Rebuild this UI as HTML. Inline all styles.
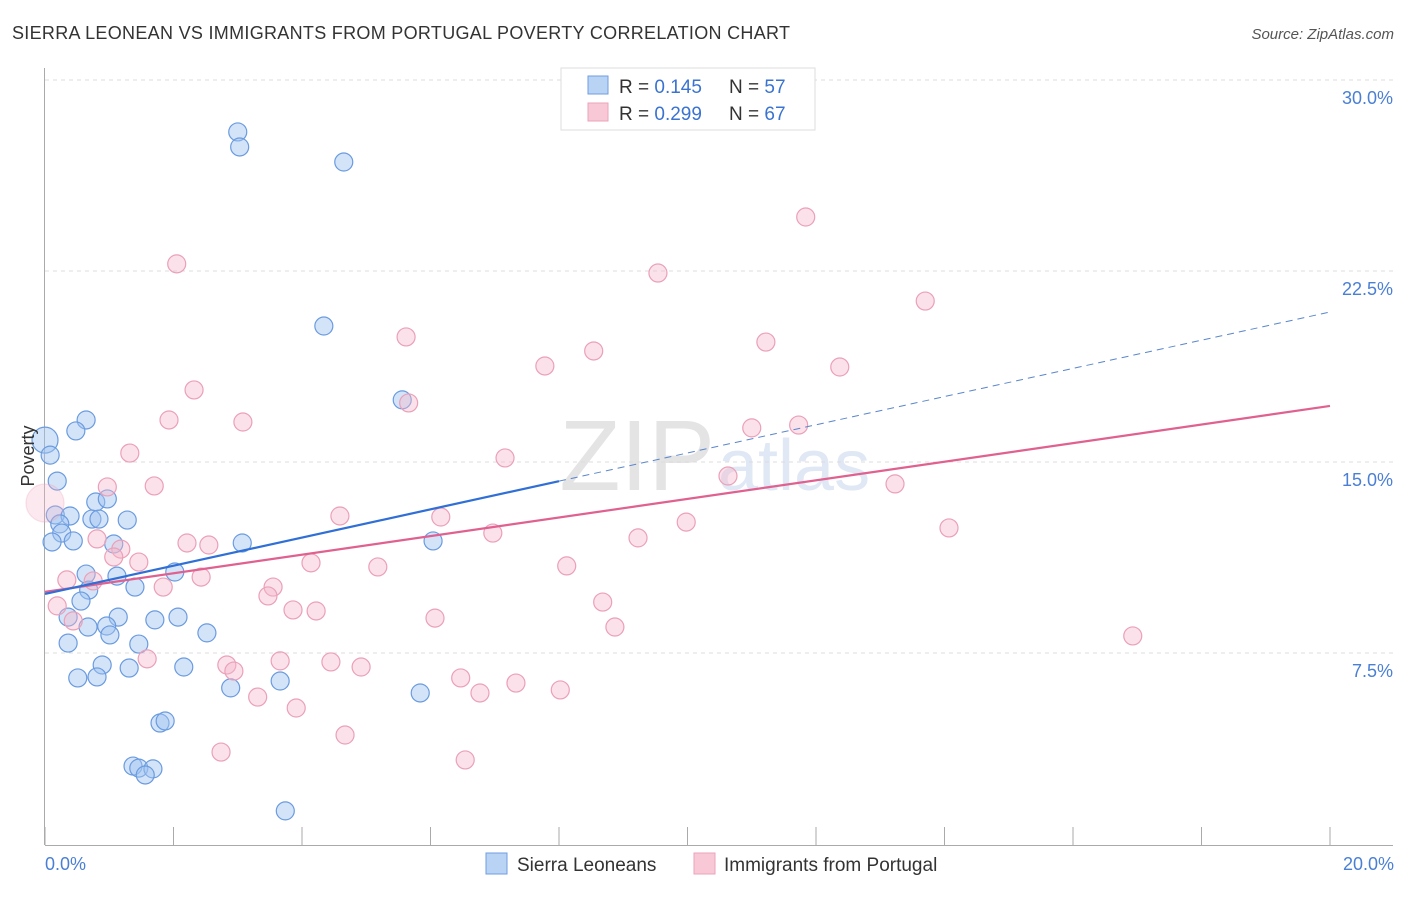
<!DOCTYPE html>
<html><head><meta charset="utf-8"><style>
body{margin:0;background:#fff;font-family:"Liberation Sans",sans-serif;}
svg text{font-family:"Liberation Sans",sans-serif;}
</style></head><body>
<svg id="chart" width="1406" height="892" viewBox="0 0 1406 892" xmlns="http://www.w3.org/2000/svg">
<text x="12" y="39" font-size="18" fill="#333" textLength="778">SIERRA LEONEAN VS IMMIGRANTS FROM PORTUGAL POVERTY CORRELATION CHART</text>
<text x="1394" y="39" font-size="15" fill="#555" font-style="italic" text-anchor="end">Source: ZipAtlas.com</text>
<text x="715" y="490" font-size="100" fill="#e4e4e4" text-anchor="end" font-family="Liberation Serif">ZIP</text>
<text x="718" y="490" font-size="72" fill="#dfe8f4">atlas</text>
<g id="grid"></g>
<g id="axes"></g>
<g id="pts"></g>
<g id="lines"></g>
<text x="34" y="456" font-size="18" fill="#333" text-anchor="middle" transform="rotate(-90 34 456)">Poverty</text>
<text x="45" y="870" font-size="18" fill="#4a7fd4">0.0%</text>
<text x="1394" y="870" font-size="18" fill="#4a7fd4" text-anchor="end">20.0%</text>
<g>
<rect x="561" y="68" width="254" height="62" fill="#fff" stroke="#ddd"/>
<rect x="588" y="76" width="20" height="18" fill="#b9d3f5" stroke="#6f9de0"/>
<rect x="588" y="103" width="20" height="18" fill="#f9c8d7" stroke="#eba3bb"/>
<text x="619" y="93" font-size="19" fill="#333">R = <tspan fill="#3a73d0">0.145</tspan><tspan x="729">N = </tspan><tspan fill="#3a73d0">57</tspan></text>
<text x="619" y="120" font-size="19" fill="#333">R = <tspan fill="#3a73d0">0.299</tspan><tspan x="729">N = </tspan><tspan fill="#3a73d0">67</tspan></text>
</g>
<g>
<rect x="486" y="853" width="21" height="21" fill="#b9d3f5" stroke="#6f9de0"/>
<text x="517" y="871" font-size="19" fill="#333">Sierra Leoneans</text></g>
<g>
<rect x="694" y="853" width="21" height="21" fill="#f9c8d7" stroke="#eba3bb"/>
<text x="724" y="871" font-size="19" fill="#333">Immigrants from Portugal</text></g>
</svg>
<script>
const yTicks=[7.5,15,22.5,30];
const yTickLabels=["7.5%","15.0%","22.5%","30.0%"];
const xTicks=[0,2,4,6,8,10,12,14,16,18,20];
const blueX=[3.00,3.03,4.65,4.34,5.56,0.64,0.48,0.0,0.08,0.19,0.79,0.97,0.16,0.39,0.73,0.84,1.28,0.23,0.26,0.11,0.44,1.07,3.07,6.04,0.64,1.12,2.02,1.40,0.68,0.56,0.36,1.14,1.71,2.07,0.67,0.96,1.01,2.52,0.36,1.46,0.89,1.31,2.16,0.51,0.81,2.89,3.66,5.84,1.79,1.87,1.37,1.46,1.68,1.56,3.74];
const blueY=[27.96,27.37,26.78,20.34,17.44,16.65,16.22,15.86,15.27,14.25,13.43,13.55,12.92,12.88,12.76,12.76,12.72,12.57,12.21,11.86,11.90,11.78,11.82,11.90,10.60,10.52,10.68,10.09,9.97,9.54,8.91,8.91,8.80,8.91,8.52,8.56,8.21,8.29,7.89,7.85,7.03,6.91,6.95,6.52,6.56,6.13,6.40,5.93,4.75,4.83,3.06,2.98,2.95,2.71,1.30];
const pinkX=[2.05,9.54,11.84,13.70,5.62,8.54,11.22,7.78,12.37,2.32,5.66,1.93,3.08,11.00,11.73,1.32,7.16,10.63,13.23,1.70,0,0.97,4.59,6.16,9.98,14.07,6.97,9.23,0.81,2.21,2.55,1.18,1.07,1.46,4.14,5.18,8.12,0.34,0.75,2.43,1.84,3.55,3.47,0.19,8.68,3.86,4.22,6.07,0.44,8.87,16.93,1.59,2.83,2.94,3.66,4.45,4.92,6.47,7.33,8.02,6.77,3.31,3.91,4.67,2.74,6.54];
const pinkY=[22.78,22.42,24.62,21.32,19.91,19.36,19.71,18.77,18.73,17.83,17.32,16.65,16.57,16.34,16.45,15.35,15.16,14.45,14.14,14.06,13.39,14.02,12.88,12.84,12.64,12.41,12.21,12.02,11.98,11.82,11.74,11.58,11.27,11.07,11.04,10.88,10.92,10.37,10.33,10.48,10.09,10.09,9.74,9.35,9.50,9.19,9.15,8.87,8.76,8.52,8.17,7.27,7.03,6.79,7.19,7.15,6.95,6.52,6.32,6.05,5.93,5.77,5.34,4.28,3.61,3.30];
const blueTrend=[9.82,20.89];
const pinkTrend=[9.90,17.20];
const NS="http://www.w3.org/2000/svg";
const sx=v=>45+v/20*1285;
const sy=v=>844-v/7.5*191;
function mk(tag,attrs,parent){const e=document.createElementNS(NS,tag);for(const k in attrs)e.setAttribute(k,attrs[k]);parent.appendChild(e);return e;}
const grid=document.getElementById('grid'),axes=document.getElementById('axes'),pts=document.getElementById('pts'),lines=document.getElementById('lines');
yTicks.forEach((t,i)=>{
 const l=mk('line',{x1:45,x2:1393,y1:sy(t),y2:sy(t),stroke:'#ddd','stroke-dasharray':'4 4'},grid);
 
 
 const tx=mk('text',{x:1393,y:sy(t)+24,'font-size':18,fill:'#4a7fd4','text-anchor':'end'},grid);
 tx.textContent=yTickLabels[i];
 
 
});
const ya=mk('line',{x1:44.5,x2:44.5,y1:68,y2:845,stroke:'#aaa'},axes);


const xa=mk('line',{x1:45,x2:1393,y1:845.5,y2:845.5,stroke:'#aaa'},axes);


xTicks.forEach(t=>{
 const l=mk('line',{x1:sx(t),x2:sx(t),y1:827,y2:845,stroke:'#aaa'},axes);
 
 
});
blueX.forEach((x,i)=>{
 const r=(x===0)?13:9;
 const c=mk('circle',{cx:sx(x),cy:sy(blueY[i]),r:r,fill:'rgba(160,196,240,0.45)',stroke:'#6a9be0','stroke-width':1.2},pts);
 
 
});
pinkX.forEach((x,i)=>{
 const big=(x===0);
 const c=mk('circle',{cx:sx(x),cy:sy(pinkY[i]),r:big?19:9,fill:big?'rgba(245,182,202,0.3)':'rgba(245,182,202,0.4)',stroke:big?'rgba(235,160,184,0.3)':'#eba0b8','stroke-width':1.2},pts);
 
 
});
const bAt=x=>blueTrend[0]+(blueTrend[1]-blueTrend[0])*x/20;
const pAt=x=>pinkTrend[0]+(pinkTrend[1]-pinkTrend[0])*x/20;
const pl=mk('line',{x1:sx(0),y1:sy(pAt(0)),x2:sx(20),y2:sy(pAt(20)),stroke:'#e0608f','stroke-width':2.2},lines);


const bl=mk('line',{x1:sx(0),y1:sy(bAt(0)),x2:sx(8),y2:sy(bAt(8)),stroke:'#2f6fd6','stroke-width':2.2},lines);


const bd=mk('line',{x1:sx(8),y1:sy(bAt(8)),x2:sx(20),y2:sy(bAt(20)),stroke:'#5a86cc','stroke-width':1,'stroke-dasharray':'7 5'},lines);


</script>
</body></html>
